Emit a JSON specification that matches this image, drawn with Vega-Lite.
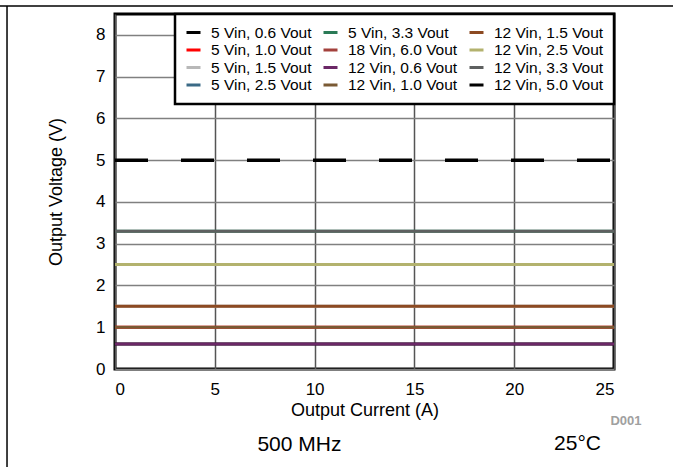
{
  "$schema": "https://vega.github.io/schema/vega-lite/v6.json",
  "width": 499,
  "height": 355,
  "autosize": "none",
  "padding": {"left": 115, "top": 14, "right": 59, "bottom": 98},
  "background": "white",
  "config": {
    "font": "Liberation Sans",
    "view": {"stroke": "black", "strokeWidth": 3},
    "axis": {"labelFont": "Liberation Sans", "titleFont": "Liberation Sans", "labelColor": "black", "titleColor": "black", "titleFontWeight": "normal", "domain": false, "ticks": false, "labelFontSize": 17, "titleFontSize": 18},
    "legend": {"strokeWidth": 2.5}
  },
  "datasets": {
    "series": [
      {"series": "5 Vin, 0.6 Vout", "current": 0, "voltage": 0.6},
      {"series": "5 Vin, 0.6 Vout", "current": 25, "voltage": 0.6},
      {"series": "5 Vin, 1.0 Vout", "current": 0, "voltage": 1.0},
      {"series": "5 Vin, 1.0 Vout", "current": 25, "voltage": 1.0},
      {"series": "5 Vin, 1.5 Vout", "current": 0, "voltage": 1.5},
      {"series": "5 Vin, 1.5 Vout", "current": 25, "voltage": 1.5},
      {"series": "5 Vin, 2.5 Vout", "current": 0, "voltage": 2.5},
      {"series": "5 Vin, 2.5 Vout", "current": 25, "voltage": 2.5},
      {"series": "5 Vin, 3.3 Vout", "current": 0, "voltage": 3.3},
      {"series": "5 Vin, 3.3 Vout", "current": 25, "voltage": 3.3},
      {"series": "12 Vin, 0.6 Vout", "current": 0, "voltage": 0.6},
      {"series": "12 Vin, 0.6 Vout", "current": 25, "voltage": 0.6},
      {"series": "12 Vin, 1.0 Vout", "current": 0, "voltage": 1.0},
      {"series": "12 Vin, 1.0 Vout", "current": 25, "voltage": 1.0},
      {"series": "12 Vin, 1.5 Vout", "current": 0, "voltage": 1.5},
      {"series": "12 Vin, 1.5 Vout", "current": 25, "voltage": 1.5},
      {"series": "12 Vin, 2.5 Vout", "current": 0, "voltage": 2.5},
      {"series": "12 Vin, 2.5 Vout", "current": 25, "voltage": 2.5},
      {"series": "12 Vin, 3.3 Vout", "current": 0, "voltage": 3.3},
      {"series": "12 Vin, 3.3 Vout", "current": 25, "voltage": 3.3},
      {"series": "12 Vin, 5.0 Vout", "current": 0, "voltage": 5.0},
      {"series": "12 Vin, 5.0 Vout", "current": 25, "voltage": 5.0}
    ],
    "notes": [
      {"label": "500 MHz", "current": 9.24, "voltage": -1.964, "kind": "big"},
      {"label": "25°C", "current": 23.17, "voltage": -1.94, "kind": "big"},
      {"label": "D001", "current": 25.6, "voltage": -1.34, "kind": "small"}
    ],
    "frame": [
      {"x": -5.41, "y": 8.69, "x2": -5.41, "y2": -2.4},
      {"x": -5.8, "y": 8.69, "x2": 28.0, "y2": 8.69}
    ]
  },
  "layer": [
    {
      "data": {"name": "frame"},
      "mark": {"type": "rule", "color": "black", "strokeWidth": 1.5, "clip": false},
      "encoding": {
        "x": {"field": "x", "type": "quantitative"},
        "y": {"field": "y", "type": "quantitative"},
        "x2": {"field": "x2"},
        "y2": {"field": "y2"}
      }
    },
    {
      "data": {"name": "series"},
      "transform": [{"filter": "indexof(datum.series, '12 Vin') < 0"}],
      "mark": {"type": "line", "strokeWidth": 3},
      "encoding": {
        "x": {
          "field": "current", "type": "quantitative",
          "scale": {"domain": [0, 25], "nice": false, "zero": false},
          "axis": {"title": "Output Current (A)", "values": [0, 5, 10, 15, 20, 25], "labelPadding": 12, "titlePadding": 4, "gridColor": "#555555", "gridWidth": 1.5}
        },
        "y": {
          "field": "voltage", "type": "quantitative",
          "scale": {"domain": [0, 8.5], "nice": false},
          "axis": {"title": "Output Voltage (V)", "values": [0, 0.5, 1, 1.5, 2, 2.5, 3, 3.5, 4, 4.5, 5, 5.5, 6, 6.5, 7, 7.5, 8, 8.5], "labelExpr": "datum.value % 1 === 0 && datum.value < 8.5 ? datum.label : ''", "labelPadding": 10, "titlePadding": 30, "gridColor": "#808080", "gridWidth": 1.5}
        },
        "color": {
          "field": "series", "type": "nominal",
          "scale": {
            "domain": ["5 Vin, 0.6 Vout", "5 Vin, 1.0 Vout", "5 Vin, 1.5 Vout", "5 Vin, 2.5 Vout", "5 Vin, 3.3 Vout", "18 Vin, 6.0 Vout", "12 Vin, 0.6 Vout", "12 Vin, 1.0 Vout", "12 Vin, 1.5 Vout", "12 Vin, 2.5 Vout", "12 Vin, 3.3 Vout", "12 Vin, 5.0 Vout"],
            "range": ["#000000", "#ff0000", "#b8b8b8", "#3b6a86", "#2a7a56", "#a3413c", "#6b2766", "#7a5a34", "#8c4a22", "#b3b26e", "#5e6060", "#000000"]
          },
          "legend": {
            "title": null, "orient": "none", "legendX": 60, "legendY": 0, "columns": 3,
            "symbolType": "stroke", "symbolSize": 196, "symbolStrokeWidth": 3, "symbolDash": [1, 0],
            "labelFontSize": 15.5, "labelFont": "Liberation Sans", "labelColor": "black", "labelOffset": 9,
            "rowPadding": 0.5, "columnPadding": 5, "padding": 10,
            "fillColor": "white", "strokeColor": "black"
          }
        }
      }
    },
    {
      "data": {"name": "series"},
      "transform": [{"filter": "indexof(datum.series, '12 Vin') >= 0 && datum.voltage != 5"}],
      "mark": {"type": "line", "strokeWidth": 3},
      "encoding": {
        "x": {"field": "current", "type": "quantitative"},
        "y": {"field": "voltage", "type": "quantitative"},
        "color": {"field": "series", "type": "nominal"}
      }
    },
    {
      "data": {"name": "series"},
      "transform": [{"filter": "datum.voltage == 5"}],
      "mark": {"type": "line", "strokeWidth": 3.5, "strokeDash": [33, 33]},
      "encoding": {
        "x": {"field": "current", "type": "quantitative"},
        "y": {"field": "voltage", "type": "quantitative"},
        "color": {"field": "series", "type": "nominal"}
      }
    },
    {
      "data": {"name": "notes"},
      "transform": [{"filter": "datum.kind == 'big'"}],
      "mark": {"type": "text", "fontSize": 21, "font": "Liberation Sans", "color": "black", "clip": false, "align": "center", "baseline": "alphabetic"},
      "encoding": {
        "x": {"field": "current", "type": "quantitative"},
        "y": {"field": "voltage", "type": "quantitative"},
        "text": {"field": "label"}
      }
    },
    {
      "data": {"name": "notes"},
      "transform": [{"filter": "datum.kind == 'small'"}],
      "mark": {"type": "text", "fontSize": 13, "fontWeight": "bold", "font": "Liberation Sans", "color": "#a0a0a0", "clip": false, "align": "center", "baseline": "alphabetic"},
      "encoding": {
        "x": {"field": "current", "type": "quantitative"},
        "y": {"field": "voltage", "type": "quantitative"},
        "text": {"field": "label"}
      }
    }
  ]
}
